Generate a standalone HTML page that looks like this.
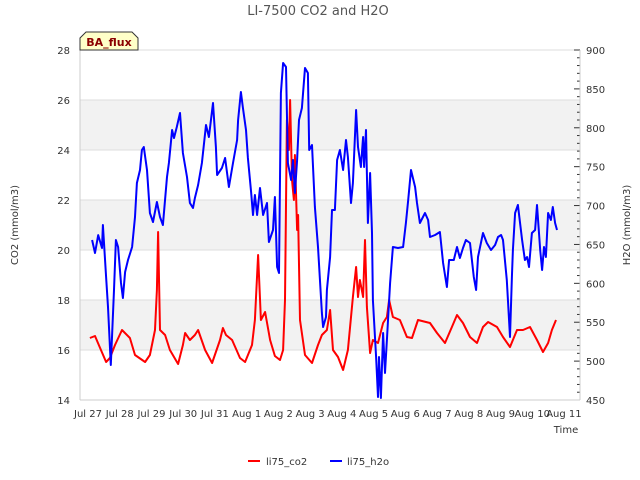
<!DOCTYPE html>
<html><head><meta charset="utf-8"><style>
body{margin:0;background:#fff;}
svg{display:block;font-family:"DejaVu Sans","Liberation Sans",sans-serif;}
</style></head><body>
<svg id="chart" width="640" height="480" viewBox="0 0 640 480">
<text x="318" y="15" text-anchor="middle" font-size="13" fill="#555">LI-7500 CO2 and H2O</text>
<g id="bands"></g><g id="grid"></g>
<g id="axes"></g>
<g id="series"></g>
<g>
<path d="M80,38 L86,32 L132,32 L138,38 L138,50 L80,50 Z" fill="#ffffc8" stroke="#333" stroke-width="1"/>
<text x="109" y="46" text-anchor="middle" font-size="11" font-weight="bold" fill="#8b0000">BA_flux</text>
</g>
<text transform="translate(18,225) rotate(-90)" text-anchor="middle" font-size="10" fill="#333">CO2 (mmol/m3)</text>
<text transform="translate(630,225) rotate(-90)" text-anchor="middle" font-size="10" fill="#333">H2O (mmol/m3)</text>
<text x="566" y="433" text-anchor="middle" font-size="10" fill="#333">Time</text>
<g>
<g><line x1="248" y1="461" x2="260" y2="461" stroke="#f00" stroke-width="2"/><text x="266" y="465" font-size="10" fill="#333">li75_co2</text></g>
<g><line x1="330" y1="461" x2="342" y2="461" stroke="#00f" stroke-width="2"/><text x="347" y="465" font-size="10" fill="#333">li75_h2o</text></g>
</g>
</svg>
<script>
const xLabels=["Jul 27","Jul 28","Jul 29","Jul 30","Jul 31","Aug 1","Aug 2","Aug 3","Aug 4","Aug 5","Aug 6","Aug 7","Aug 8","Aug 9","Aug 10","Aug 11"];
const leftTicks=[14,16,18,20,22,24,26,28];
const rightTicks=[450,500,550,600,650,700,750,800,850,900];
const co2Days=[.06,.22,.38,.57,.69,.85,1.07,1.32,1.48,1.80,1.95,2.11,2.17,2.21,2.27,2.43,2.58,2.84,2.99,3.06,3.21,3.37,3.47,3.69,3.91,4.16,4.25,4.35,4.54,4.79,4.95,5.17,5.26,5.36,5.45,5.58,5.74,5.89,6.05,6.15,6.21,6.27,6.33,6.37,6.43,6.49,6.52,6.59,6.62,6.68,6.84,7.06,7.25,7.37,7.53,7.63,7.72,7.88,8.04,8.19,8.35,8.45,8.51,8.57,8.67,8.73,8.79,8.89,8.98,9.14,9.30,9.42,9.49,9.61,9.83,10.05,10.21,10.40,10.78,11.00,11.25,11.47,11.63,11.82,12.04,12.26,12.45,12.61,12.89,13.08,13.30,13.52,13.71,13.93,14.15,14.34,14.50,14.62,14.75];
const co2Values=[16.48,16.56,16.08,15.52,15.68,16.2,16.8,16.48,15.8,15.52,15.8,16.8,18.4,20.72,16.8,16.6,16.0,15.44,16.2,16.68,16.4,16.6,16.8,16.0,15.48,16.4,16.88,16.6,16.4,15.68,15.52,16.2,17.2,19.8,17.2,17.52,16.4,15.76,15.6,16.0,18.0,25.2,24.0,26.0,22.8,22.0,23.8,20.8,21.4,17.2,15.8,15.48,16.2,16.6,16.8,17.6,16.0,15.72,15.2,16.0,18.12,19.32,18.12,18.8,18.12,20.4,17.72,15.88,16.4,16.28,17.08,17.32,18.0,17.32,17.2,16.52,16.48,17.2,17.08,16.68,16.28,16.92,17.4,17.08,16.52,16.28,16.92,17.12,16.92,16.52,16.12,16.8,16.8,16.92,16.4,15.92,16.28,16.8,17.2];
const h2oDays=[.13,.22,.32,.44,.47,.57,.63,.72,.76,.82,.88,.95,1.04,1.10,1.17,1.26,1.39,1.48,1.54,1.64,1.70,1.76,1.86,1.95,2.05,2.17,2.27,2.36,2.49,2.55,2.65,2.71,2.80,2.90,2.99,3.12,3.21,3.31,3.37,3.47,3.59,3.72,3.81,3.94,4.03,4.07,4.22,4.32,4.44,4.57,4.70,4.73,4.82,4.88,4.98,5.04,5.14,5.20,5.26,5.33,5.42,5.52,5.64,5.70,5.83,5.89,5.96,6.02,6.08,6.15,6.24,6.30,6.40,6.46,6.52,6.59,6.65,6.74,6.84,6.93,6.97,7.06,7.15,7.25,7.37,7.41,7.50,7.53,7.63,7.69,7.78,7.85,7.94,8.04,8.13,8.19,8.29,8.35,8.45,8.51,8.60,8.67,8.70,8.76,8.82,8.89,8.95,8.98,9.08,9.14,9.17,9.23,9.30,9.36,9.42,9.52,9.61,9.77,9.93,10.02,10.09,10.18,10.31,10.37,10.46,10.62,10.72,10.78,10.94,11.09,11.19,11.31,11.38,11.53,11.63,11.72,11.82,11.91,12.04,12.16,12.23,12.29,12.45,12.57,12.70,12.83,12.92,13.02,13.08,13.20,13.30,13.36,13.39,13.46,13.55,13.68,13.77,13.84,13.90,13.99,14.09,14.15,14.25,14.31,14.37,14.43,14.50,14.59,14.65,14.72,14.78];
const h2oValues=[655.7,639,662,645.4,675,608,569.6,495,533.6,591.4,655.7,646.7,600.4,581.1,614.6,630,646.7,685.3,729,745.7,771.4,775.3,745.7,690.4,678.9,704.6,685.3,675,736.7,754.7,797.1,786.9,801,819,767.6,736.7,703.3,696.9,709.7,726.4,754.7,803.6,788.1,831.9,775.3,739.3,748.3,761.1,723.9,754.7,784.3,810,846,826.7,797.1,761.1,717.4,687.9,713.6,687.9,722.6,687.9,703.3,653.1,668.6,711,621,613.3,844.7,883.3,878.1,754.7,732.9,758.6,716.1,758.6,810,825.4,876.9,870.4,771.4,777.9,698.1,646.7,561.9,543.9,556.7,591.4,633.9,694.3,694.3,758.6,771.4,745.7,784.3,762.4,703.3,729,822.9,775.3,749.6,788.1,749.6,797.1,677.6,741.9,664.7,578.6,505.3,453.9,505.3,452.6,536.1,484.7,527.1,600.4,646.7,645.4,646.7,677.6,707.1,745.7,723.9,703.3,677.6,690.4,681.4,659.6,662.1,666,626.1,595.3,630,630,646.7,632.6,645.4,655.7,651.9,608.1,591.4,633.9,664.7,651.9,642.9,649.3,659.6,662.1,655.7,604.3,531,608.1,642.9,690.4,700.7,655.7,630,633.9,621,664.7,668.6,700.7,642.9,617.1,646.7,633.9,690.4,681.4,698.1,677.6,668.6];

const NS="http://www.w3.org/2000/svg";
const L=80,R=580,T=50,B=400;
const xs=d=>88+d*31.73;
const yl=v=>B-(v-14)*(B-T)/14;
const yr=v=>B-(v-450)*(B-T)/450;
function mk(tag,attrs,parent){const e=document.createElementNS(NS,tag);for(const k in attrs)e.setAttribute(k,attrs[k]);parent.appendChild(e);return e;}
const bands=document.getElementById('bands'),grid=document.getElementById('grid'),axes=document.getElementById('axes'),series=document.getElementById('series');
[[16,18],[20,22],[24,26]].forEach(b=>{
  const r=mk('rect',{x:L,y:yl(b[1]),width:R-L,height:yl(b[0])-yl(b[1]),fill:'#f2f2f2'},bands);
  
  
});
leftTicks.forEach(v=>{
  const g=mk('line',{x1:L,x2:R,y1:yl(v),y2:yl(v),stroke:'#dedede','stroke-width':1},grid);
  
  
  const t=mk('text',{x:70,y:yl(v)+4,'text-anchor':'end','font-size':10,fill:'#333'},axes);
  t.textContent=v;
  
  
});
rightTicks.forEach(v=>{
  const t=mk('text',{x:586,y:yr(v)+4,'font-size':10,fill:'#333'},axes);
  t.textContent=v;
  
  
});
for(let v=450;v<=900;v+=10){
  const major=v%50===0;
  const tk=mk('line',{x1:major?574:577,x2:580,y1:yr(v),y2:yr(v),stroke:'#333','stroke-width':1},axes);
  
  
}
mk('line',{x1:L,x2:L,y1:T,y2:B,stroke:'#ccc'},axes);
mk('line',{x1:L,x2:R,y1:B,y2:B,stroke:'#ccc'},axes);
mk('line',{x1:R,x2:R,y1:T,y2:B,stroke:'#ccc'},axes);
xLabels.forEach((s,i)=>{
  const t=mk('text',{x:xs(i),y:417,'text-anchor':'middle','font-size':10,fill:'#333'},axes);
  t.textContent=s;
  
  
});
function line(days,vals,ys,col,name){
  const p=mk('polyline',{points:days.map((d,i)=>xs(d).toFixed(1)+','+ys(vals[i]).toFixed(1)).join(' '),fill:'none',stroke:col,'stroke-width':2,'stroke-linejoin':'round'},series);
  
  
}
line(co2Days,co2Values,yl,'#ff0000','co2-line');
line(h2oDays,h2oValues,yr,'#0000ff','h2o-line');
</script>
</body></html>
